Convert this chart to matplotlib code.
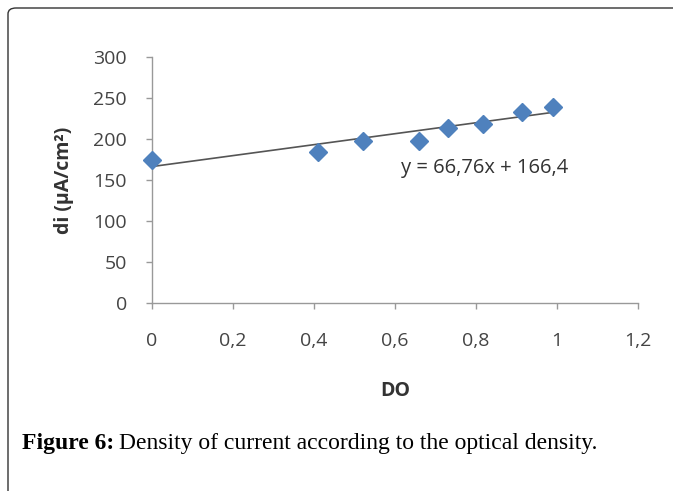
import matplotlib
matplotlib.use("Agg")
import matplotlib.pyplot as plt
from matplotlib.patches import FancyBboxPatch
import numpy as np

x_do = [0.0, 0.409, 0.52, 0.66, 0.732, 0.817, 0.913, 0.991]
y_di = [174, 184.5, 197.5, 197.5, 213, 218, 233, 239]
slope, intercept = 66.76, 166.4
x_ticks = [0, 0.2, 0.4, 0.6, 0.8, 1.0, 1.2]
x_tick_labels = ["0", "0,2", "0,4", "0,6", "0,8", "1", "1,2"]
y_ticks = [0, 50, 100, 150, 200, 250, 300]

plt.rcParams['font.family'] = ['Open Sans', 'DejaVu Sans']

fig = plt.figure(figsize=(6.73, 4.91), dpi=100)
W, H = 673, 491

# outer rounded frame
frame = FancyBboxPatch((8 / W, -0.1), 1.2, 1 - 8 / H + 0.1,
                       boxstyle="round,pad=0,rounding_size=0.012",
                       transform=fig.transFigure, fill=False,
                       edgecolor="#333333", linewidth=1.0, clip_on=False)
fig.patches.append(frame)

ax = fig.add_axes([152 / W, 1 - 303 / H, (638 - 152) / W, (303 - 57) / H])
ax.set_xlim(0, 1.2)
ax.set_ylim(0, 300)

xf = np.array([min(x_do), max(x_do)])
ax.plot(xf, slope * xf + intercept, color="#555555", linewidth=1.2, zorder=2)
ax.plot(x_do, y_di, linestyle="none", marker="D", markersize=9,
        color="#4F81BD", markeredgecolor="#4F81BD", zorder=3, clip_on=False)

ax.text(0.615, 158, "y = 66,76x + 166,4", fontsize=14.5, color="#333333")

for s in ["top", "right"]:
    ax.spines[s].set_visible(False)
for s in ["left", "bottom"]:
    ax.spines[s].set_color("#999999")
    ax.spines[s].set_linewidth(1.0)

ax.set_xticks(x_ticks)
ax.set_xticklabels(x_tick_labels)
ax.set_yticks(y_ticks)
ax.tick_params(axis="both", colors="#999999", length=4, width=1,
               labelcolor="#444444", labelsize=14)
ax.tick_params(axis="x", pad=17)
ax.tick_params(axis="y", pad=14)

ax.set_xlabel("DO", fontsize=14, fontweight="bold", color="#333333", labelpad=22)
ax.set_ylabel("di (µA/cm²)", fontsize=14, fontweight="bold", color="#333333", labelpad=14)

fig.canvas.draw()
renderer = fig.canvas.get_renderer()
cap_y = 1 - 443 / H
t1 = fig.text(22 / W, cap_y, "Figure 6:", fontsize=17, fontweight="bold",
              family=["Liberation Serif"], va="center", ha="left", color="black")
bb = t1.get_window_extent(renderer=renderer)
fig.text((bb.x1 + 5) / W, cap_y, "Density of current according to the optical density.",
         fontsize=17, family=["Liberation Serif"], va="center", ha="left", color="black")

fig.savefig("out.png", dpi=100)
